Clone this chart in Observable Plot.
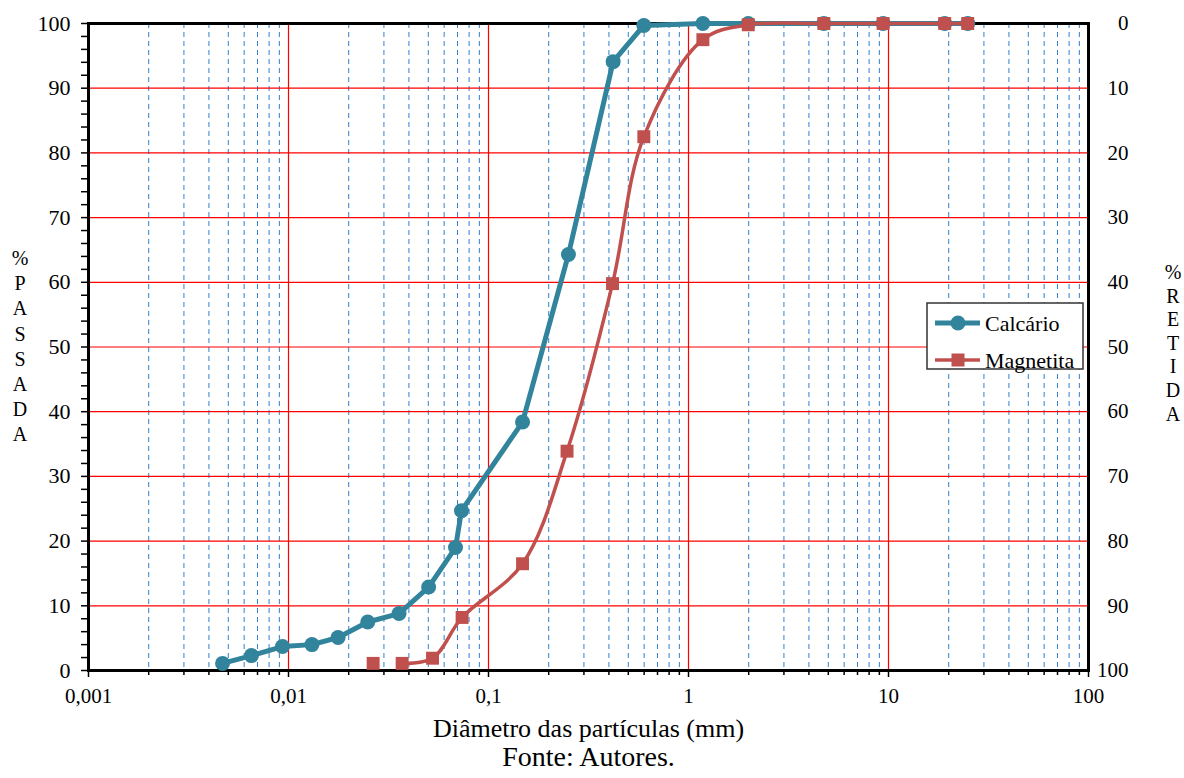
<!DOCTYPE html>
<html>
<head>
<meta charset="utf-8">
<script src="https://cdn.jsdelivr.net/npm/d3@7"></script>
<script src="https://cdn.jsdelivr.net/npm/@observablehq/plot@0.6"></script>
<style>
  html, body { margin: 0; padding: 0; background: #fff; }
  #chart { position: relative; width: 1184px; height: 778px; }
  #chart svg, #chart svg text { font-family: 'Liberation Serif', 'Times New Roman', Times, 'DejaVu Serif', serif !important; }
</style>
</head>
<body>
<div id="chart"></div>
<script>
// ---- Data ----
const calcarioX = [0.00468, 0.00653, 0.00933, 0.0131, 0.0177, 0.0249, 0.0357, 0.0502, 0.0684, 0.0733, 0.148, 0.251, 0.42, 0.598, 1.18, 1.99, 4.75, 9.4, 19.1, 24.9];
const calcarioY = [1.1, 2.3, 3.7, 4.0, 5.1, 7.5, 8.8, 12.9, 19.0, 24.7, 38.4, 64.3, 94.1, 99.7, 100, 100, 100, 100, 100, 100];
const magnetitaX = [0.0265, 0.037, 0.0525, 0.0738, 0.148, 0.247, 0.417, 0.598, 1.18, 1.99, 4.75, 9.4, 19.1, 24.9];
const magnetitaY = [1.1, 1.1, 1.9, 8.2, 16.5, 33.9, 59.8, 82.5, 97.5, 99.8, 100, 100, 100, 100];
const seriesNames = ["Calcário", "Magnetita"];
const decadeTicks = [0.001, 0.01, 0.1, 1, 10, 100];
const yTicks = [0, 10, 20, 30, 40, 50, 60, 70, 80, 90, 100];
const yMinorTicks = d3.range(0, 101, 2);
const xLabel = "Diâmetro das partículas (mm)";
const leftLabel = "%PASSADA";
const rightLabel = "%RETIDA";
const caption = "Fonte: Autores.";

const calc = calcarioX.map((x, i) => ({x, y: calcarioY[i]}));
const mag = magnetitaX.map((x, i) => ({x, y: magnetitaY[i]}));
const minorX = [];
for (let e = -3; e < 2; e++) for (let k = 2; k <= 9; k++) minorX.push(k * Math.pow(10, e));
const innerDecades = decadeTicks.slice(1, -1);
const hGrid = yTicks.slice(1, -1);

const teal = "#31849B";
const red = "#C0504D";
const font = "'Liberation Serif', 'Times New Roman', Times, 'DejaVu Serif', serif";

const svg = Plot.plot({
  width: 1184,
  height: 778,
  marginTop: 23,
  marginBottom: 108,
  marginLeft: 88,
  marginRight: 96,
  style: {fontFamily: font, fontSize: "22px", color: "black", background: "white"},
  x: {type: "log", domain: [0.001, 100]},
  y: {domain: [0, 100]},
  marks: [
    Plot.ruleX(minorX, {stroke: "#2F80D0", strokeWidth: 1, strokeDasharray: "5,4"}),
    Plot.ruleX(innerDecades, {stroke: "#FF0000", strokeWidth: 1.2}),
    Plot.ruleY(hGrid, {stroke: "#FF0000", strokeWidth: 1.2}),
    Plot.frame({stroke: "black", strokeWidth: 3}),
    // left axis
    Plot.axisY({ticks: yMinorTicks, tickSize: 7, text: null, strokeWidth: 1.5, label: null}),
    Plot.axisY({ticks: yTicks, tickSize: 0, tickPadding: 18, label: null}),
    // right axis labels (% retida)
    Plot.text(yTicks, {y: d => d, text: d => String(100 - d), frameAnchor: "right", dx: 40, textAnchor: "end", fontSize: 21}),
    // bottom axis
    Plot.axisX({ticks: minorX, tickSize: 5, text: null, strokeWidth: 1.5, label: null}),
    Plot.axisX({ticks: decadeTicks, tickSize: 7, strokeWidth: 1.5, tickPadding: 11, fontSize: 21, tickFormat: d => String(d).replace(".", ","), label: null}),
    Plot.text([xLabel], {frameAnchor: "bottom", dy: 66, fontSize: 26}),
    Plot.text([caption], {frameAnchor: "bottom", dy: 95, fontSize: 28}),
    // series
    Plot.line(calc, {x: "x", y: "y", stroke: teal, strokeWidth: 5}),
    Plot.dot(calc, {x: "x", y: "y", r: 7.5, fill: teal}),
    Plot.line(mag.slice(1), {x: "x", y: "y", stroke: red, strokeWidth: 3.5, curve: "catmull-rom"}),
    Plot.dot(mag, {x: "x", y: "y", r: 7.3, symbol: "square", fill: red})
  ]
});

document.getElementById("chart").appendChild(svg);

// Vertical stacked axis titles
const s = d3.select(svg);
function stacked(label, cx, y0, step) {
  const g = s.append("g").attr("font-size", 20).attr("text-anchor", "middle");
  label.split("").forEach((ch, i) => {
    g.append("text").attr("x", cx).attr("y", y0 + i * step).attr("dy", "0.35em").text(ch);
  });
}
stacked(leftLabel, 20, 258, 25.2);
stacked(rightLabel, 1173, 272, 23.6);

// Legend
const lg = s.append("g").attr("font-size", 22).attr("text-anchor", "start");
lg.append("rect").attr("x", 927).attr("y", 303).attr("width", 156).attr("height", 66)
  .attr("fill", "white").attr("stroke", "#333").attr("stroke-width", 1.5);
const items = [
  {name: seriesNames[0], color: teal, sym: "circle", w: 5},
  {name: seriesNames[1], color: red, sym: "square", w: 3.5}
];
items.forEach((it, i) => {
  const cy = 323 + i * 37;
  lg.append("line").attr("x1", 935).attr("x2", 980).attr("y1", cy).attr("y2", cy)
    .attr("stroke", it.color).attr("stroke-width", it.w);
  if (it.sym === "circle") lg.append("circle").attr("cx", 958).attr("cy", cy).attr("r", 7.5).attr("fill", it.color);
  else lg.append("rect").attr("x", 951.5).attr("y", cy - 6.5).attr("width", 13).attr("height", 13).attr("fill", it.color);
  lg.append("text").attr("x", 985).attr("y", cy).attr("dy", "0.35em").text(it.name);
});
</script>
</body>
</html>
